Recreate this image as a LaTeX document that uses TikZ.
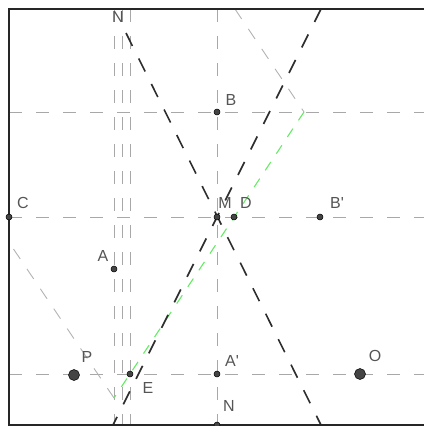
\documentclass[tikz,border=0pt]{standalone}
\usepackage{fontspec}
\setmainfont{Liberation Sans}
\newfontfamily\labelfont{Liberation Sans}
\definecolor{gridgray}{RGB}{168,168,168}
\definecolor{raygray}{RGB}{178,178,178}
\definecolor{darkline}{RGB}{45,45,45}
\definecolor{raygreen}{RGB}{100,235,100}
\definecolor{labelgray}{RGB}{85,85,85}
\definecolor{ptfill}{RGB}{68,68,68}
\begin{document}
\begin{tikzpicture}[x=1pt,y=-1pt,
  gridline/.style={draw=gridgray, line width=1pt, dash pattern=on 13pt off 14pt},
  rayline/.style={draw=raygray, line width=0.9pt, dash pattern=on 12pt off 12pt},
  darkdash/.style={draw=darkline, line width=1.6pt, dash pattern=on 14.5pt off 14pt},
  greendash/.style={draw=raygreen, line width=1.1pt, dash pattern=on 10pt off 10pt},
  pt/.style={circle, fill=ptfill, draw=black, line width=0.5pt, inner sep=0pt, minimum size=6pt},
  bigpt/.style={circle, fill=ptfill, draw=black, line width=0.5pt, inner sep=0pt, minimum size=11pt},
  lbl/.style={text=labelgray, font=\labelfont\fontsize{16}{16}\selectfont, inner sep=0pt, anchor=center},
  frame/.style={draw=black!85, line width=1.5pt}]
\useasboundingbox (0,0) rectangle (424,426);
% coordinates of points
\coordinate (pB) at (217,112);
\coordinate (pC) at (9,217);
\coordinate (pM) at (217,217);
\coordinate (pD) at (234,217);
\coordinate (pBp) at (320,217);
\coordinate (pA) at (114,269);
\coordinate (pP) at (74,375);
\coordinate (pE) at (130,374);
\coordinate (pAp) at (217,374);
\coordinate (pO) at (360,374);
\coordinate (pN) at (217,425);
% guide coordinates
\coordinate (h1L) at (9,112);  \coordinate (h1R) at (424,112);
\coordinate (h2L) at (9,217);  \coordinate (h2R) at (424,217);
\coordinate (h3L) at (9,374);  \coordinate (h3R) at (424,374);
\coordinate (v0T) at (217,9);  \coordinate (v0B) at (217,425);
\coordinate (v1T) at (114,9);  \coordinate (v1B) at (114,425);
\coordinate (v2T) at (122,9);  \coordinate (v2B) at (122,425);
\coordinate (v3T) at (130,9);  \coordinate (v3B) at (130,425);
\coordinate (d1T) at (126,33); \coordinate (d1B) at (321,425);
\coordinate (d2T) at (321,9);  \coordinate (d2B) at (113,425);
\coordinate (gT) at (304,112); \coordinate (gB) at (114,398);
\coordinate (rT) at (235,9);   \coordinate (rL) at (13.5,249);
\begin{scope}
\clip (9,9) rectangle (424,425);
\draw[gridline] (h1L) -- (h1R);
\draw[gridline] (h2L) -- (h2R);
\draw[gridline] (h3L) -- (h3R);
\draw[gridline] (v0T) -- (v0B);
\draw[gridline] (v1T) -- (v1B);
\draw[gridline] (v2T) -- (v2B);
\draw[gridline] (v3T) -- (v3B);
\draw[rayline] (rT) -- (gT);
\draw[rayline] (rL) -- (gB);
\draw[greendash] (gT) -- (gB);
\draw[darkdash] (d1T) -- (d1B);
\draw[darkdash] (d2T) -- (d2B);
\end{scope}
% frame
\draw[frame] (424,9) -- (9,9) -- (9,425) -- (424,425);
% points
\node[pt] (B) at (pB) {};
\node[pt] (C) at (pC) {};
\node[pt] (M) at (pM) {};
\node[pt] (D) at (pD) {};
\node[pt] (Bp) at (pBp) {};
\node[pt] (A) at (pA) {};
\node[bigpt] (P) at (pP) {};
\node[pt] (E) at (pE) {};
\node[pt] (Ap) at (pAp) {};
\node[bigpt] (O) at (pO) {};
\begin{scope}
\clip (9,9) rectangle (424,425.8);
\node[pt] (N) at (pN) {};
\end{scope}
% labels
\node[lbl] (lNt) at (118,17) {N};
\node[lbl] (lB) at (231,100) {B};
\node[lbl] (lC) at (23,203) {C};
\node[lbl] (lM) at (225,203) {M};
\node[lbl] (lD) at (246,203) {D};
\node[lbl] (lBp) at (337,203) {B'};
\node[lbl] (lA) at (103,256) {A};
\node[lbl] (lP) at (87,357) {P};
\node[lbl] (lE) at (148,388) {E};
\node[lbl] (lAp) at (232,361) {A'};
\node[lbl] (lO) at (375,356) {O};
\node[lbl] (lN) at (229,406) {N};
\end{tikzpicture}
\end{document}
